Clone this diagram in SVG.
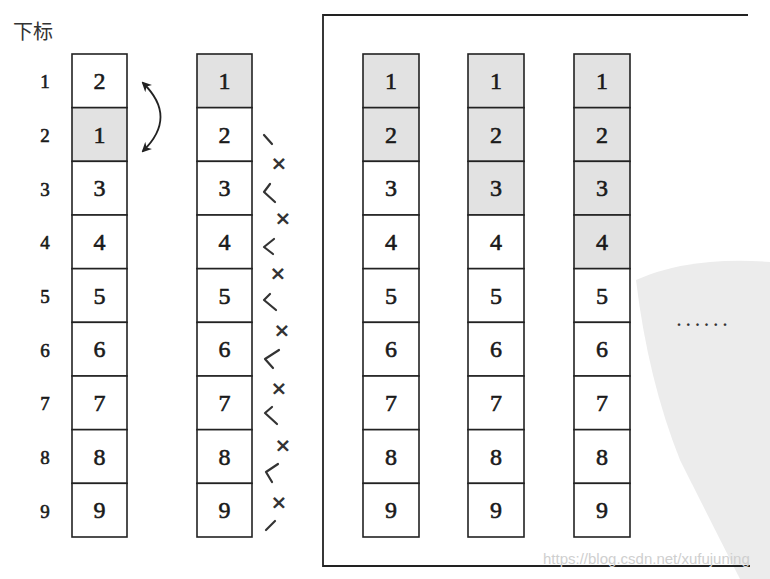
<svg xmlns="http://www.w3.org/2000/svg" width="770" height="579" viewBox="0 0 770 579">
<style>
.c{fill:#fff;stroke:#222;stroke-width:1.6}
.g{fill:#e2e2e2;stroke:#222;stroke-width:1.6}
.n{font-family:"Liberation Serif",serif;font-size:24px;fill:#1a1a1a;stroke:#1a1a1a;stroke-width:0.6;text-anchor:middle}
.i{font-family:"Liberation Serif",serif;font-size:19px;fill:#1a1a1a;stroke:#1a1a1a;stroke-width:0.6;text-anchor:middle}
.m{fill:none;stroke:#333;stroke-width:2.2;stroke-linecap:round;stroke-linejoin:round}
.x{font-family:"DejaVu Sans",sans-serif;font-size:20px;font-weight:bold;fill:#333;text-anchor:middle}
.fr{fill:none;stroke:#222;stroke-width:1.8}
</style>
<defs>
<marker id="ah" viewBox="0 0 10 10" refX="8" refY="5" markerWidth="10" markerHeight="10" markerUnits="userSpaceOnUse" orient="auto-start-reverse">
<path d="M0,0 L10,5 L0,10 L3,5 Z" fill="#222"/>
</marker>
</defs>
<rect width="770" height="579" fill="#fff"/>
<g id="watermark-shape">
<path d="M636,280 Q690,256 770,262 L770,579 L740,579 Q700,500 680,460 Q648,380 636,280 Z" fill="#ececec"/>
</g>
<g id="frame">
<path class="fr" d="M748,15 L323,15 L323,566 L750,566"/>
</g>
<g id="header">
<text x="13" y="39" font-family="'Noto Sans CJK SC',sans-serif" font-size="20" fill="#333">下标</text>
</g>
<g id="indices">
<text class="i" x="45" y="88">1</text>
<text class="i" x="45" y="142">2</text>
<text class="i" x="45" y="196">3</text>
<text class="i" x="45" y="249">4</text>
<text class="i" x="45" y="303">5</text>
<text class="i" x="45" y="357">6</text>
<text class="i" x="45" y="410">7</text>
<text class="i" x="45" y="464">8</text>
<text class="i" x="45" y="518">9</text>
</g>
<g id="col1">
<g id="col1-r1"><rect class="c" x="72" y="54" width="55" height="53.67"/><text class="n" x="99.5" y="89">2</text></g>
<g id="col1-r2"><rect class="g" x="72" y="107.67" width="55" height="53.67"/><text class="n" x="99.5" y="142.5">1</text></g>
<g id="col1-r3"><rect class="c" x="72" y="161.33" width="55" height="53.67"/><text class="n" x="99.5" y="196.2">3</text></g>
<g id="col1-r4"><rect class="c" x="72" y="215" width="55" height="53.67"/><text class="n" x="99.5" y="249.8">4</text></g>
<g id="col1-r5"><rect class="c" x="72" y="268.67" width="55" height="53.67"/><text class="n" x="99.5" y="303.5">5</text></g>
<g id="col1-r6"><rect class="c" x="72" y="322.33" width="55" height="53.67"/><text class="n" x="99.5" y="357.2">6</text></g>
<g id="col1-r7"><rect class="c" x="72" y="376" width="55" height="53.67"/><text class="n" x="99.5" y="410.8">7</text></g>
<g id="col1-r8"><rect class="c" x="72" y="429.67" width="55" height="53.67"/><text class="n" x="99.5" y="464.5">8</text></g>
<g id="col1-r9"><rect class="c" x="72" y="483.33" width="55" height="53.67"/><text class="n" x="99.5" y="518.2">9</text></g>
</g>
<g id="col2">
<g id="col2-r1"><rect class="g" x="197" y="54" width="55" height="53.67"/><text class="n" x="224.5" y="89">1</text></g>
<g id="col2-r2"><rect class="c" x="197" y="107.67" width="55" height="53.67"/><text class="n" x="224.5" y="142.5">2</text></g>
<g id="col2-r3"><rect class="c" x="197" y="161.33" width="55" height="53.67"/><text class="n" x="224.5" y="196.2">3</text></g>
<g id="col2-r4"><rect class="c" x="197" y="215" width="55" height="53.67"/><text class="n" x="224.5" y="249.8">4</text></g>
<g id="col2-r5"><rect class="c" x="197" y="268.67" width="55" height="53.67"/><text class="n" x="224.5" y="303.5">5</text></g>
<g id="col2-r6"><rect class="c" x="197" y="322.33" width="55" height="53.67"/><text class="n" x="224.5" y="357.2">6</text></g>
<g id="col2-r7"><rect class="c" x="197" y="376" width="55" height="53.67"/><text class="n" x="224.5" y="410.8">7</text></g>
<g id="col2-r8"><rect class="c" x="197" y="429.67" width="55" height="53.67"/><text class="n" x="224.5" y="464.5">8</text></g>
<g id="col2-r9"><rect class="c" x="197" y="483.33" width="55" height="53.67"/><text class="n" x="224.5" y="518.2">9</text></g>
</g>
<g id="col3">
<g id="col3-r1"><rect class="g" x="363" y="54" width="56" height="53.67"/><text class="n" x="391" y="89">1</text></g>
<g id="col3-r2"><rect class="g" x="363" y="107.67" width="56" height="53.67"/><text class="n" x="391" y="142.5">2</text></g>
<g id="col3-r3"><rect class="c" x="363" y="161.33" width="56" height="53.67"/><text class="n" x="391" y="196.2">3</text></g>
<g id="col3-r4"><rect class="c" x="363" y="215" width="56" height="53.67"/><text class="n" x="391" y="249.8">4</text></g>
<g id="col3-r5"><rect class="c" x="363" y="268.67" width="56" height="53.67"/><text class="n" x="391" y="303.5">5</text></g>
<g id="col3-r6"><rect class="c" x="363" y="322.33" width="56" height="53.67"/><text class="n" x="391" y="357.2">6</text></g>
<g id="col3-r7"><rect class="c" x="363" y="376" width="56" height="53.67"/><text class="n" x="391" y="410.8">7</text></g>
<g id="col3-r8"><rect class="c" x="363" y="429.67" width="56" height="53.67"/><text class="n" x="391" y="464.5">8</text></g>
<g id="col3-r9"><rect class="c" x="363" y="483.33" width="56" height="53.67"/><text class="n" x="391" y="518.2">9</text></g>
</g>
<g id="col4">
<g id="col4-r1"><rect class="g" x="468" y="54" width="56" height="53.67"/><text class="n" x="496" y="89">1</text></g>
<g id="col4-r2"><rect class="g" x="468" y="107.67" width="56" height="53.67"/><text class="n" x="496" y="142.5">2</text></g>
<g id="col4-r3"><rect class="g" x="468" y="161.33" width="56" height="53.67"/><text class="n" x="496" y="196.2">3</text></g>
<g id="col4-r4"><rect class="c" x="468" y="215" width="56" height="53.67"/><text class="n" x="496" y="249.8">4</text></g>
<g id="col4-r5"><rect class="c" x="468" y="268.67" width="56" height="53.67"/><text class="n" x="496" y="303.5">5</text></g>
<g id="col4-r6"><rect class="c" x="468" y="322.33" width="56" height="53.67"/><text class="n" x="496" y="357.2">6</text></g>
<g id="col4-r7"><rect class="c" x="468" y="376" width="56" height="53.67"/><text class="n" x="496" y="410.8">7</text></g>
<g id="col4-r8"><rect class="c" x="468" y="429.67" width="56" height="53.67"/><text class="n" x="496" y="464.5">8</text></g>
<g id="col4-r9"><rect class="c" x="468" y="483.33" width="56" height="53.67"/><text class="n" x="496" y="518.2">9</text></g>
</g>
<g id="col5">
<g id="col5-r1"><rect class="g" x="574" y="54" width="56" height="53.67"/><text class="n" x="602" y="89">1</text></g>
<g id="col5-r2"><rect class="g" x="574" y="107.67" width="56" height="53.67"/><text class="n" x="602" y="142.5">2</text></g>
<g id="col5-r3"><rect class="g" x="574" y="161.33" width="56" height="53.67"/><text class="n" x="602" y="196.2">3</text></g>
<g id="col5-r4"><rect class="g" x="574" y="215" width="56" height="53.67"/><text class="n" x="602" y="249.8">4</text></g>
<g id="col5-r5"><rect class="c" x="574" y="268.67" width="56" height="53.67"/><text class="n" x="602" y="303.5">5</text></g>
<g id="col5-r6"><rect class="c" x="574" y="322.33" width="56" height="53.67"/><text class="n" x="602" y="357.2">6</text></g>
<g id="col5-r7"><rect class="c" x="574" y="376" width="56" height="53.67"/><text class="n" x="602" y="410.8">7</text></g>
<g id="col5-r8"><rect class="c" x="574" y="429.67" width="56" height="53.67"/><text class="n" x="602" y="464.5">8</text></g>
<g id="col5-r9"><rect class="c" x="574" y="483.33" width="56" height="53.67"/><text class="n" x="602" y="518.2">9</text></g>
</g>
<g id="connectors">
<path d="M143,83 Q178,117 143,151" fill="none" stroke="#222" stroke-width="1.8" marker-start="url(#ah)" marker-end="url(#ah)"/>
</g>
<g id="marks">
<path class="m" d="M264,135 L272,144"/>
<text class="x" x="279" y="170">×</text>
<path class="m" d="M270,184 L264,192 L275,202"/>
<text class="x" x="283" y="225">×</text>
<path class="m" d="M274,239 L264,247 L273,254"/>
<text class="x" x="278" y="280">×</text>
<path class="m" d="M270,294 L264,300 L276,310"/>
<text class="x" x="282" y="337">×</text>
<path class="m" d="M279,350 L265,359 L273,368"/>
<text class="x" x="279" y="395">×</text>
<path class="m" d="M272,407 L265,413 L277,424"/>
<text class="x" x="283" y="452">×</text>
<path class="m" d="M278,464 L266,472 L272,482"/>
<text class="x" x="279" y="509">×</text>
<path class="m" d="M266,530 L275,521"/>
</g>
<g id="ellipsis">
<text x="677" y="326" font-family="'Liberation Serif',serif" font-size="16" font-weight="bold" fill="#333" letter-spacing="5.2">......</text>
</g>
<g id="watermark-text">
<text x="543" y="564" font-family="'Liberation Sans',sans-serif" font-size="15" fill="#cfcfcf">https://blog.csdn.net/xufujuning</text>
</g>
</svg>
